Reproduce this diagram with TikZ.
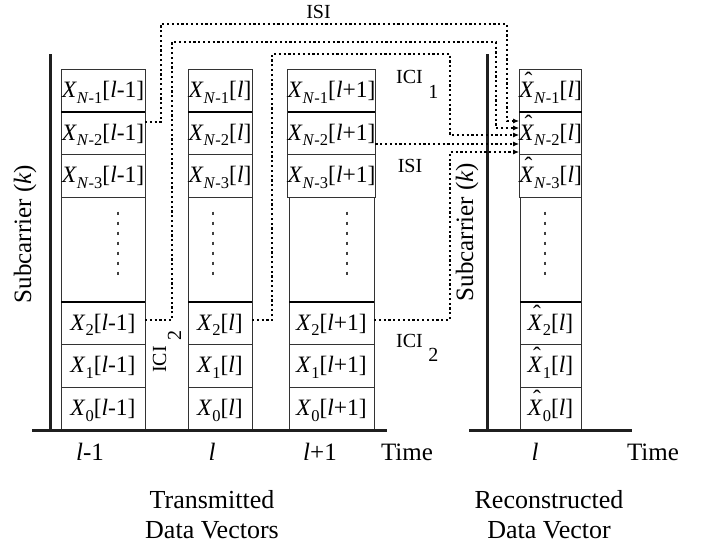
\documentclass[tikz,border=0pt]{standalone}
\usepackage{fontspec}
\setmainfont{Liberation Serif}
\usetikzlibrary{arrows.meta}
\newcommand\fs[1]{\fontsize{#1}{#1}\selectfont}
\newcommand\Sb[1]{\raisebox{-5.5pt}{\fs{16.5}#1}}
\newcommand\Xc[2]{\textit{X}\Sb{#1}[#2]}
\newcommand\Xh[2]{\textit{X}\llap{\makebox[14.4pt][c]{\hspace{3pt}\raisebox{9pt}{\char"02C6}}}\Sb{#1}[#2]}
\newcommand\Nm[1]{\textit{N}-#1}
\tikzset{
  cell/.style={draw=black!80, line width=0.9pt, inner sep=0pt, outer sep=0pt,
    font=\fs{23.5}, text height=18pt, text depth=4pt},
  wa/.style={minimum width=84pt}, wb/.style={minimum width=64pt},
  wc/.style={minimum width=85pt}, wd/.style={minimum width=61pt},
  hr/.style={minimum height=43pt}, hs/.style={minimum height=42pt},
  hd/.style={minimum height=105pt},
  sepline/.style={line width=2pt, black},
  axisline/.style={line width=3pt, black!88},
  vdots/.style={line width=2pt, dash pattern=on 3pt off 7pt, black!75},
  conn/.style={line width=1.1pt, dash pattern=on 2.2pt off 2.6pt, black},
  arr/.style={conn, -{Latex[length=6pt,width=5pt]}},
  lbl/.style={font=\fs{20}, inner sep=0pt},
  axl/.style={font=\fs{25}, inner sep=0pt},
  captxt/.style={font=\fontsize{26}{30}\selectfont, inner sep=0pt}
}
\begin{document}
\begin{tikzpicture}[x=1pt,y=-1pt]
\useasboundingbox (0,0) rectangle (707,546);
% column 1 (l-1)
\node[cell,wa,hr] (c1n1) at (103,90.5) {\Xc{\Nm1}{\textit{l}-1}};
\node[cell,wa,hs] (c1n2) at (103,133) {\Xc{\Nm2}{\textit{l}-1}};
\node[cell,wa,hr] (c1n3) at (103,175.5) {\Xc{\Nm3}{\textit{l}-1}};
\node[cell,wa,hd] (c1d) at (103,249.5) {};
\node[cell,wa,hs] (c12) at (103,323) {\Xc{2}{\textit{l}-1}};
\node[cell,wa,hr] (c11) at (103,365.5) {\Xc{1}{\textit{l}-1}};
\node[cell,wa,hr] (c10) at (103,408.5) {\Xc{0}{\textit{l}-1}};
% column 2 (l)
\node[cell,wb,hr] (c2n1) at (220,90.5) {\Xc{\Nm1}{\textit{l}}};
\node[cell,wb,hs] (c2n2) at (220,133) {\Xc{\Nm2}{\textit{l}}};
\node[cell,wb,hr] (c2n3) at (220,175.5) {\Xc{\Nm3}{\textit{l}}};
\node[cell,wb,hd] (c2d) at (220,249.5) {};
\node[cell,wb,hs] (c22) at (220,323) {\Xc{2}{\textit{l}}};
\node[cell,wb,hr] (c21) at (220,365.5) {\Xc{1}{\textit{l}}};
\node[cell,wb,hr] (c20) at (220,408.5) {\Xc{0}{\textit{l}}};
% column 3 (l+1)
\node[cell,wc,hr] (c3n1) at (331.5,90.5) {\Xc{\Nm1}{\textit{l}+1}};
\node[cell,wc,hs] (c3n2) at (331.5,133) {\Xc{\Nm2}{\textit{l}+1}};
\node[cell,wc,hr] (c3n3) at (331.5,175.5) {\Xc{\Nm3}{\textit{l}+1}};
\node[cell,wc,hd] (c3d) at (331.5,249.5) {};
\node[cell,wc,hs] (c32) at (331.5,323) {\Xc{2}{\textit{l}+1}};
\node[cell,wc,hr] (c31) at (331.5,365.5) {\Xc{1}{\textit{l}+1}};
\node[cell,wc,hr] (c30) at (331.5,408.5) {\Xc{0}{\textit{l}+1}};
% column 4 (reconstructed)
\node[cell,wd,hr] (c4n1) at (550.5,90.5) {\Xh{\Nm1}{\textit{l}}};
\node[cell,wd,hs] (c4n2) at (550.5,133) {\Xh{\Nm2}{\textit{l}}};
\node[cell,wd,hr] (c4n3) at (550.5,175.5) {\Xh{\Nm3}{\textit{l}}};
\node[cell,wd,hd] (c4d) at (550.5,249.5) {};
\node[cell,wd,hs] (c42) at (550.5,323) {\Xh{2}{\textit{l}}};
\node[cell,wd,hr] (c41) at (550.5,365.5) {\Xh{1}{\textit{l}}};
\node[cell,wd,hr] (c40) at (550.5,408.5) {\Xh{0}{\textit{l}}};
% thick separators
\foreach \c in {c1,c2,c3,c4}{
  \draw[sepline] (\c n1.south west) -- (\c n1.south east);
  \draw[sepline] (\c d.south west) -- (\c d.south east);
}
% vertical dots
\draw[vdots] (118,211.5) -- (118,276);
\draw[vdots] (213,211.5) -- (213,276);
\draw[vdots] (347,211.5) -- (347,276);
\draw[vdots] (545,211.5) -- (545,276);
% axes
\draw[axisline] (50,54) -- (50,431.5);
\draw[axisline] (32,430) -- (387,430);
\draw[axisline] (487,54) -- (487,431.5);
\draw[axisline] (469,430) -- (632,430);
% connectors
\draw[arr] ([yshift=11pt]c1n2.east) -| (161,24) -| (507,121) -- ([yshift=12pt]c4n2.west);
\draw[arr] ([yshift=3pt]c12.east) -| (172,42) -| (496,128) -- ([yshift=5pt]c4n2.west);
\draw[arr] ([yshift=3pt]c22.east) -| (272,54) -| (450,135) -- ([yshift=-2pt]c4n2.west);
\draw[arr] ([yshift=-11pt]c3n2.east) -- ([yshift=-11pt]c4n2.west);
\draw[arr] ([yshift=3pt]c32.east) -| (450,152) -- ([yshift=-19pt]c4n2.west);
% connector labels
\node[lbl, anchor=base] (isitop) at (318.5,18) {ISI};
\node[lbl, anchor=base west] (ici1) at (396,83) {ICI\kern5.5pt\raisebox{-15pt}{1}};
\node[lbl, anchor=base] (isimid) at (410,172) {ISI};
\node[lbl, anchor=base west] (ici2r) at (396,347) {ICI\kern5.5pt\raisebox{-14pt}{2}};
\node[lbl, anchor=base west, rotate=90] (ici2l) at (166,373) {ICI\kern5.5pt\raisebox{-15pt}{2}};
% axis labels
\node[axl, rotate=90] (ylab1) at (25,234) {Subcarrier (\textit{k})};
\node[axl, rotate=90] (ylab2) at (467,232) {Subcarrier (\textit{k})};
\node[axl, anchor=base] (t1) at (90,460) {\textit{l}-1};
\node[axl, anchor=base] (t2) at (212,460) {\textit{l}};
\node[axl, anchor=base] (t3) at (320,460) {\textit{l}+1};
\node[axl, anchor=base] (time1) at (407,460) {Time};
\node[axl, anchor=base] (t4) at (535,460) {\textit{l}};
\node[axl, anchor=base] (time2) at (653,460) {Time};
% captions
\node[captxt, anchor=base] (capl) at (212,508) {\begin{tabular}[t]{@{}c@{}}Transmitted\\Data Vectors\end{tabular}};
\node[captxt, anchor=base] (capr) at (549,508) {\begin{tabular}[t]{@{}c@{}}Reconstructed\\Data Vector\end{tabular}};
\end{tikzpicture}
\end{document}
